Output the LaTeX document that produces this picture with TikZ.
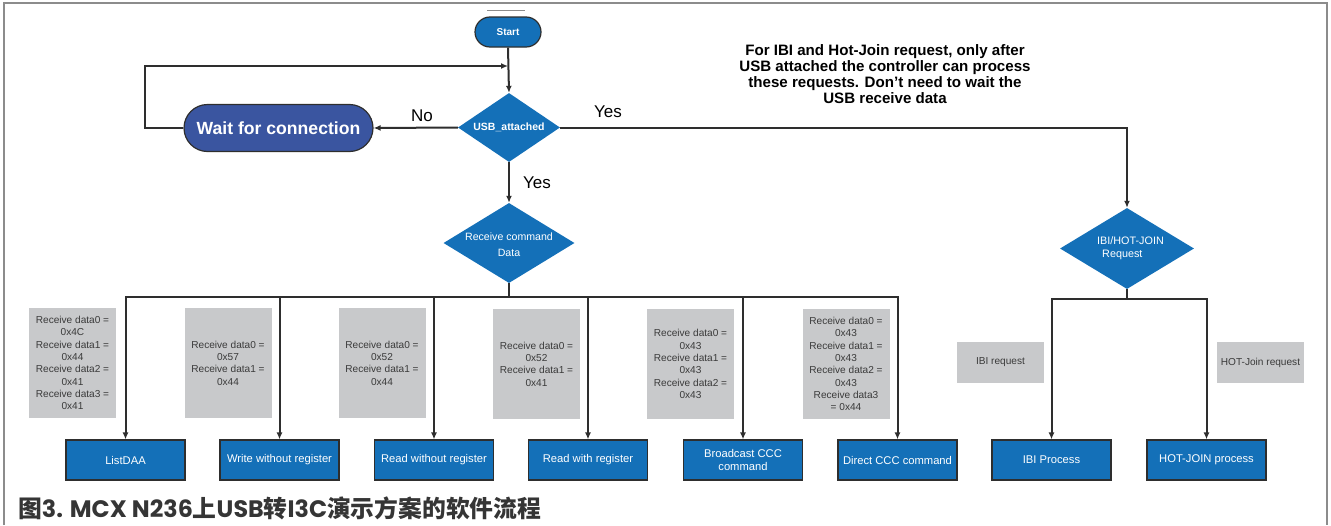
\documentclass[tikz,border=0pt]{standalone}
\usepackage{fontspec}
\setmainfont{Liberation Sans}
\newfontfamily\cjkfont{Noto Sans CJK SC}
\newfontfamily\popfont{Poppins}
\usetikzlibrary{shapes.geometric,arrows.meta}

\definecolor{flowblue}{HTML}{1470B8}
\definecolor{waitblue}{HTML}{3A55A0}
\definecolor{notegray}{HTML}{C8C9CB}
\definecolor{edgedark}{HTML}{2E2E2E}
\definecolor{framegray}{HTML}{8C8C8C}
\definecolor{captext}{HTML}{353535}
\definecolor{notetext}{HTML}{3A3A3A}

\tikzset{
  flow/.style={draw=edgedark, line width=2pt, -{Latex[length=7pt,width=6pt]}},
  wire/.style={draw=edgedark, line width=2pt},
  pill/.style={draw=edgedark, line width=1.2pt, fill=flowblue, text=white,
    font=\bfseries\fontsize{10}{12}\selectfont, inner sep=0pt},
  waitbox/.style={draw=edgedark, line width=1.2pt, fill=waitblue, text=white,
    font=\bfseries\fontsize{17.6}{20}\selectfont, inner sep=0pt,
    minimum width=189pt, minimum height=47pt, rounded corners=23.5pt},
  decision/.style={diamond, fill=flowblue, inner sep=0pt},
  dtext/.style={text=white, inner sep=0pt},
  procbox/.style={draw=edgedark, line width=1.2pt, fill=flowblue, text=white,
    font=\fontsize{11.2}{13}\selectfont, align=center, inner sep=0pt,
    minimum width=119pt, minimum height=40pt},
  databox/.style={fill=notegray, text=notetext, align=center, inner sep=0pt,
    font=\fontsize{10.1}{12.3}\selectfont,
    minimum width=87pt, minimum height=110pt},
  reqbox/.style={fill=notegray, text=notetext, align=center, inner sep=0pt,
    font=\fontsize{10.1}{12.3}\selectfont,
    minimum width=87pt, minimum height=41pt},
  branch/.style={text=black, inner sep=0pt, font=\fontsize{17}{20}\selectfont},
}

\begin{document}
\begin{tikzpicture}[x=1pt,y=-1pt]
\useasboundingbox (0,0) rectangle (1331,525);

% outer frame
\draw[framegray, line width=2pt] (4,525) -- (4,3) -- (1327,3) -- (1327,525);
\draw[framegray, line width=1pt] (487,10) -- (525,10);

% start and the attach test
\node[pill, minimum width=66pt, minimum height=30pt, rounded corners=15pt] (start) at (508,32) {Start};
\node[decision, minimum width=102pt, minimum height=69pt] (usb) at (509,127.5) {};
\node[dtext, font=\bfseries\fontsize{10.5}{12}\selectfont] (usbt) at (usb.center) {USB\_attached};
\node[waitbox] (wait) at (278.5,128) {Wait for connection};
\coordinate (loopin) at (508,66);

% command decision
\node[decision, minimum width=131pt, minimum height=80pt] (rcv) at (509,243) {};
\node[dtext, align=center, font=\fontsize{10.6}{16}\selectfont] (rcvt) at (509,245) {Receive command\\Data};

% IBI / Hot-Join decision
\node[decision, minimum width=134pt, minimum height=81pt] (ibi) at (1127,248.5) {};
\node[dtext, align=left, anchor=west, font=\fontsize{10.8}{13.5}\selectfont] (ibit) at (1097,248) {IBI/HOT-JOIN\\\hspace*{5pt}Request};

% note
\node[align=center, inner sep=0pt, font=\bfseries\fontsize{15.1}{16}\selectfont] (note) at (885,74)
  {For IBI and Hot-Join request, only after\\USB attached the controller can process\\these requests. Don't need to wait the\\USB receive data};

% branch labels
\node[branch] (lno) at (422,116) {No};
\node[branch] (lyes1) at (608,112) {Yes};
\node[branch] (lyes2) at (537,183) {Yes};

% command handlers
\node[procbox] (p1) at (125.5,460) {ListDAA};
\node[procbox] (p2) at (279.5,460) {Write without register};
\node[procbox] (p3) at (434,460) {Read without register};
\node[procbox] (p4) at (588,460) {Read with register};
\node[procbox] (p5) at (743,460) {Broadcast CCC\\command};
\node[procbox] (p6) at (897.5,460) {Direct CCC command};
\node[procbox] (p7) at (1051.5,460) {IBI Process};
\node[procbox] (p8) at (1206.5,460) {HOT-JOIN process};

% received byte patterns
\node[databox] (g1) at (72.5,363) {Receive data0 =\\0x4C\\Receive data1 =\\0x44\\Receive data2 =\\0x41\\Receive data3 =\\0x41};
\node[databox] (g2) at (228,363) {Receive data0 =\\0x57\\Receive data1 =\\0x44};
\node[databox] (g3) at (382,363) {Receive data0 =\\0x52\\Receive data1 =\\0x44};
\node[databox] (g4) at (536.5,364) {Receive data0 =\\0x52\\Receive data1 =\\0x41};
\node[databox] (g5) at (690.5,364) {Receive data0 =\\0x43\\Receive data1 =\\0x43\\Receive data2 =\\0x43};
\node[databox] (g6) at (846,364) {Receive data0 =\\0x43\\Receive data1 =\\0x43\\Receive data2 =\\0x43\\Receive data3\\= 0x44};
\node[reqbox] (r1) at (1000.5,362.5) {IBI request};
\node[reqbox] (r2) at (1260.5,362.5) {HOT-Join request};

% connectors
\draw[flow] (start.south) -- (usb.north);
\draw[flow] (usb.west) -- (wait.east);
\draw[flow] (wait.west) -- ++(-38,0) |- (loopin);
\draw[flow] (usb.east) -| (ibi.north);
\draw[flow] (usb.south) -- (rcv.north);

\coordinate (bus) at (509,297);
\draw[wire] (rcv.south) -- (bus);
\foreach \p in {p1,p2,p3,p4,p5,p6}
  \draw[flow] (bus) -| (\p.north);

\coordinate (bus2) at (1127,299);
\draw[wire] (ibi.south) -- (bus2);
\foreach \p in {p7,p8}
  \draw[flow] (bus2) -| (\p.north);

% caption
\node[anchor=base west, inner sep=0pt, text=captext, font=\fontsize{23.8}{26}\selectfont] (cap) at (18,517)
  {{\cjkfont\bfseries 图}{\popfont\bfseries 3. MCX N236}{\cjkfont\bfseries 上}{\popfont\bfseries USB}{\cjkfont\bfseries 转}{\popfont\bfseries I3C}{\cjkfont\bfseries 演示方案的软件流程}};
\end{tikzpicture}
\end{document}
